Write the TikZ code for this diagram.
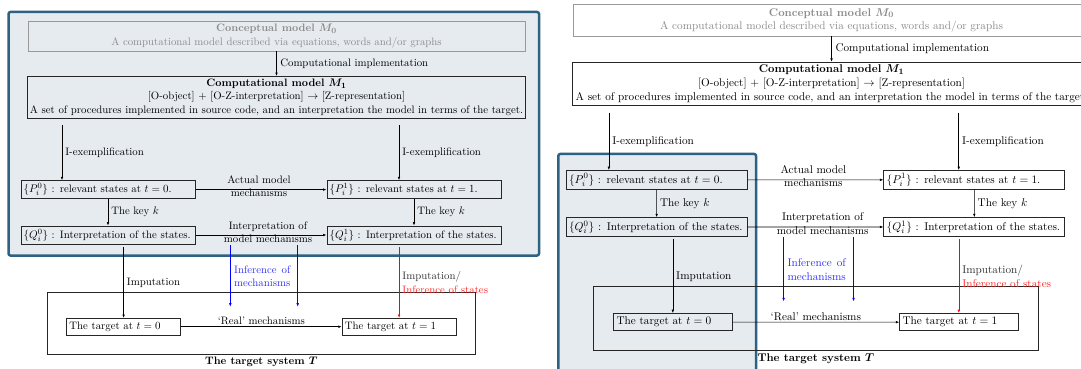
\documentclass[tikz,border=0pt]{standalone}
\usepackage{bm}
\usepackage{calc}
\usetikzlibrary{arrows.meta}
\definecolor{frameblue}{RGB}{46,98,130}
\definecolor{panelfill}{RGB}{230,235,240}
\definecolor{infblue}{RGB}{50,50,255}
\definecolor{infred}{RGB}{255,40,40}
\tikzset{
  box/.style={draw=black!85, line width=0.7pt, inner sep=2.8pt},
  cbox/.style={draw=black!40, line width=0.7pt, text=black!45, align=center, minimum width=497pt, minimum height=30pt, inner sep=2.8pt},
  mbox/.style={box, align=center, minimum width=497pt},
  sbox/.style={box, text width=168.7pt, align=left, minimum height=18pt},
  tbox/.style={box, text width=108.4pt, align=left, minimum height=16.7pt},
  sysbox/.style={box, inner sep=0pt},
  arr/.style={-{Latex[length=3.5pt,width=2.6pt]}, line width=0.6pt},
  frame/.style={draw=frameblue, line width=2.5pt, fill=panelfill, rounded corners=2pt},
}
\newcommand\drawdiagram[1]{%
  #1
  \node[cbox] (c0) at (276.5,36) {\textbf{Conceptual model $\bm{M_0}$}\\A computational model described via equations, words and/or graphs};
  \node[mbox, anchor=north] (m1) at (276.5,76) {\textbf{Computational model $\bm{M_1}$}\\ {[O-object] + [O-Z-interpretation] $\rightarrow$ [Z-representation]}\\ A set of procedures implemented in source code, and an interpretation the model in terms of the target.};
  \draw[arr] (c0.south) -- (m1.north) node[midway, right, inner sep=3.5pt] {Computational implementation};
  \node[sbox] (p0) at (108,189.6) {$\{P_i^0\}$ : relevant states at $t=0$.};
  \node[sbox] (p1) at (414,189.6) {$\{P_i^1\}$ : relevant states at $t=1$.};
  \node[sbox] (q0) at (108,235) {$\{Q_i^0\}$ : Interpretation of the states.};
  \node[sbox] (q1) at (414,235) {$\{Q_i^1\}$ : Interpretation of the states.};
  \coordinate (ie0) at (62,125);
  \coordinate (ie1) at (399,125);
  \draw[arr] (ie0) -- (ie0 |- p0.north) node[midway, right, inner sep=3pt] {I-exemplification};
  \draw[arr] (ie1) -- (ie1 |- p1.north) node[midway, right, inner sep=3pt] {I-exemplification};
  \draw[arr] (p0) -- (q0) node[midway, right, inner sep=3pt] {The key $k$};
  \draw[arr] (p1) -- (q1) node[midway, right, inner sep=3pt] {The key $k$};
  \draw[arr] (p0) -- (p1) node[midway, align=center, xshift=-2pt, yshift=3.6pt] {Actual model\\mechanisms};
  \draw[arr] (q0) -- (q1) node[midway, align=center, xshift=7pt, yshift=3pt] {Interpretation of\\model mechanisms};
  \node[sysbox, minimum width=428.7pt, minimum height=61.3pt] (sys) at (261.35,323.35) {};
  \node[anchor=north, inner sep=2.5pt] (syslbl) at (sys.south) {\textbf{The target system $\bm{T}$}};
  \node[tbox] (t0) at (123.6,326.7) {The target at $t=0$};
  \node[tbox] (t1) at (399.1,326.7) {The target at $t=1$};
  \draw[arr] (t0) -- (t1) node[midway, above, inner sep=1.5pt] {`Real' mechanisms};
  \coordinate (im0) at (123.6,247);
  \draw[arr] (im0) -- (t0.north) node[midway, right, inner sep=3pt] {Imputation};
  \coordinate (im1) at (399.1,247);
  \draw[arr, red] (im1) -- (t1.north) node[midway, right, inner sep=3pt, align=left, text=black!80] {Imputation/\\\textcolor{infred}{Inference of states}};
  \coordinate (bl0) at (230.3,245);
  \coordinate (bl0e) at (230.3,306.7);
  \coordinate (bl1) at (297.7,245);
  \coordinate (bl1e) at (297.7,306.7);
  \draw[arr, blue] (bl0) -- (bl0e) node[midway, right, inner sep=3.5pt, align=left, text=infblue] {\makebox[\widthof{mechanisms}][s]{Inference of}\\mechanisms};
  \draw[arr, blue] (bl1) -- (bl1e);
}
\begin{document}
\begin{tikzpicture}[x=1pt,y=-1pt]
\useasboundingbox (0,0) rectangle (1081,369);
\clip (0,0) rectangle (1081,369);
\fill[white] (0,0) rectangle (1081,369);
\begin{scope}[font=\fontsize{10.8}{13.2}\selectfont]
  \drawdiagram{\draw[frame] (8.5,12) rectangle (539,255.5);}
\end{scope}
\begin{scope}[shift={(544.5,-17)}, scale=1.038, transform shape, name prefix=R-, font=\fontsize{10.8}{13.2}\selectfont]
  \drawdiagram{\draw[frame] (13.3,164.7) rectangle (203.8,440);}
\end{scope}
\end{tikzpicture}
\end{document}
